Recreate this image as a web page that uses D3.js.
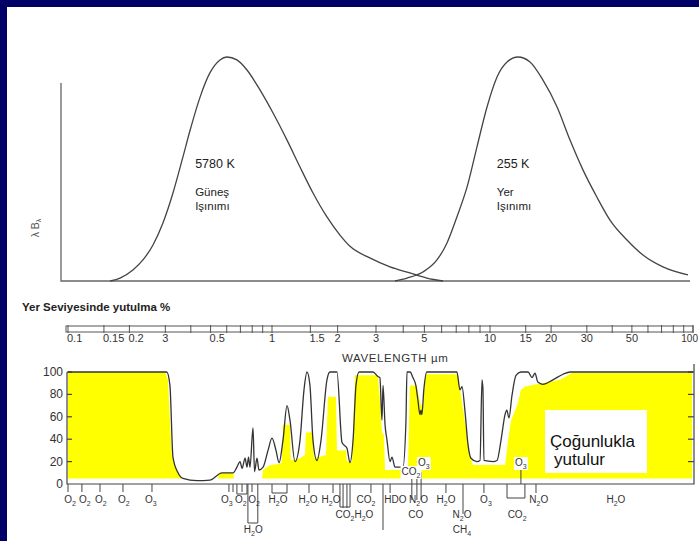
<!DOCTYPE html>
<html>
<head>
<meta charset="utf-8">
<script src="https://cdn.jsdelivr.net/npm/d3@7"></script>
<style>
  html, body { margin: 0; padding: 0; background: #000066; }
  svg { display: block; }
  text { font-family: "Liberation Sans", Arial, sans-serif; fill: #222; }
</style>
</head>
<body>
<svg id="chart" width="699" height="541"></svg>
<script>
// ---- Wavelength axis (µm) ----
const wlBreaks = [0.1, 1, 10, 100];
const barTicks = [0.1, 0.15, 0.2, 0.3, 0.4, 0.5, 0.6, 0.7, 0.8, 0.9, 1, 1.5, 2, 3, 4, 5, 6, 7, 8, 9,
                  10, 15, 20, 30, 40, 50, 60, 70, 80, 90, 100];
const barLabelWl   = [0.1, 0.15, 0.2, 0.3, 0.5, 1, 1.5, 2, 3, 5, 10, 15, 20, 30, 50, 100];
const barLabelText = ["0.1", "0.15", "0.2", "3", "0.5", "1", "1.5", "2", "3", "5", "10", "15", "20", "30", "50", "100"];

// ---- Upper panel: normalised λB_λ emission curves ----
const sunWl  = [0.161, 0.180, 0.208, 0.233, 0.261, 0.292, 0.327, 0.366, 0.397, 0.444, 0.496, 0.556, 0.601,
                0.673, 0.754, 0.873, 1.011, 1.172, 1.344, 1.542, 1.787, 2.05, 2.279, 2.81, 3.478, 4.29, 5.13, 6.09];
const sunVal = [0, 0.013, 0.049, 0.094, 0.161, 0.259, 0.393, 0.554, 0.674, 0.821, 0.929, 0.987, 1.0,
                0.987, 0.942, 0.853, 0.75, 0.629, 0.509, 0.393, 0.286, 0.205, 0.155, 0.103, 0.063, 0.036, 0.013, 0];
const earthWl  = [3.667, 4.16, 4.92, 5.71, 6.35, 7.05, 7.85, 8.71, 9.69, 10.83, 12.13, 13.74, 15.74, 18.24,
                  21.4, 24.79, 28.7, 33.6, 39.0, 47.3, 56.7, 71.1, 94.5];
const earthVal = [0, 0.013, 0.040, 0.094, 0.17, 0.286, 0.42, 0.598, 0.777, 0.911, 0.978, 1.0, 0.978, 0.897,
                  0.777, 0.629, 0.496, 0.375, 0.272, 0.183, 0.116, 0.063, 0.027];
const curveLabels = [
  ["5780 K", "Güneş", "Işınımı"],
  ["255 K", "Yer", "Işınımı"]
];
const curveLabelWl = [0.42, 10.8];

// ---- Lower panel: absorption at ground level (%) ----
const absWl  = [0.1, 0.305, 0.316, 0.327, 0.346, 0.366, 0.429, 0.496, 0.569, 0.644, 0.673, 0.697, 0.713, 0.738,
                0.754, 0.767, 0.780, 0.807, 0.821, 0.844, 0.863, 0.904, 0.956, 1.0, 1.043, 1.077, 1.123, 1.172,
                1.209, 1.275, 1.344, 1.402, 1.447, 1.493, 1.542, 1.608, 1.678, 1.787, 1.845, 1.986, 2.095, 2.16,
                2.207, 2.279, 2.354, 2.428, 2.507, 2.906, 3.06, 3.126, 3.195, 3.23, 3.30, 3.37, 3.478, 3.55,
                3.667, 3.987, 4.117, 4.16, 4.3, 4.43, 4.57, 4.67, 4.77, 4.82, 4.87, 4.97, 5.13, 7.05, 7.28,
                7.44, 7.67, 7.93, 8.18, 8.71, 9.0, 9.19, 9.28, 9.38, 10.34, 10.83, 11.33, 11.86, 12.1, 12.4,
                12.83, 13.43, 14.2, 15.4, 16.1, 16.66, 17.2, 18.2, 20.4, 22.9, 24.8, 100];
const absPct = [100, 100, 88, 24, 10, 5, 3, 3.5, 10, 10, 15, 20, 14, 23,
                15, 24, 15, 50, 11, 23, 12.5, 15, 30, 41, 30, 19, 39, 70,
                57, 20, 39, 84, 100, 88, 39, 21, 39, 93, 100, 100, 37, 34,
                32, 19, 39, 88, 100, 100, 96, 95, 57, 88, 53, 39, 20, 24,
                15, 15, 57, 100, 100, 95, 88, 75, 62, 66, 62, 84, 100, 100, 84,
                87, 66, 35, 23, 20, 21, 93, 85, 21, 20, 21, 39, 62, 66, 59,
                79, 97, 100, 100, 95, 99, 91, 89, 93, 98, 100, 100];

// Highlighted ("mostly absorbed") region
const shadeWl  = [0.1, 0.299, 0.309, 0.316, 0.323, 0.334, 0.354, 0.366, 0.543, 0.549, 0.644, 0.652, 0.894,
                  0.904, 0.978, 1.088, 1.11, 1.123, 1.209, 1.22, 1.344, 1.417, 1.43, 1.542, 1.557, 1.769,
                  1.806, 1.965, 1.986, 2.185, 2.207, 2.33, 2.403, 3.06, 3.126, 3.195, 3.26, 3.30, 4.2, 4.29,
                  4.62, 4.72, 4.92, 5.03, 5.08, 7.13, 7.36, 8.09, 8.35, 11.86, 12.27, 12.7, 13.6, 14.2, 14.86,
                  22.1, 25.3, 98.9, 99];
const shadePct = [100, 100, 93, 57, 26, 17, 8, 5, 5, 10, 10, 5, 5,
                  12.5, 17, 18, 20, 53, 53, 21, 23, 26, 46, 46, 23, 26,
                  78, 78, 30, 30, 20, 20, 97, 97, 75, 46, 44, 12.5, 12.5, 88,
                  88, 77, 66, 93, 98, 98, 79, 26, 17, 17, 39, 57, 70, 84, 87,
                  93, 99, 99, 5];
const shadeFloor = 5;

const pctTicks = [0, 20, 40, 60, 80, 100];

// Absorbing species marked under the axis
const gasText = ["O_2", "O_2", "O_2", "O_2", "O_3", "O_3", "O_2", "O_2", "H_2O", "H_2O", "H_2O", "CO_2", "HDO",
                 "N_2O", "H_2O", "O_3", "N_2O", "H_2O",
                 "CO_2", "H_2O", "CO", "N_2O", "CO_2",
                 "H_2O", "CH_4",
                 "CO_2", "O_3", "O_3"];
const gasWl   = [0.1023, 0.121, 0.145, 0.188, 0.255, 0.6, 0.704, 0.816, 1.065, 1.462, 1.865, 2.70, 3.68,
                 4.70, 6.28, 9.58, 17.4, 41.7,
                 2.16, 2.64, 4.57, 7.44, 13.6,
                 0.81, 7.44,
                 4.34, 4.97, 14.2];
const gasRow  = ["a", "a", "a", "a", "a", "a", "a", "a", "a", "a", "a", "a", "a",
                 "a", "a", "a", "a", "a",
                 "b", "b", "b", "b", "b",
                 "c", "c",
                 "u1", "u2", "u2"];
const markWl  = [0.1, 0.117, 0.1435, 0.186, 0.258, 0.615, 0.644, 0.713, 0.798, 1.478, 1.905, 2.118, 2.207,
                 2.844, 3.23, 3.48, 4.38, 4.62, 4.83, 6.28, 7.52, 9.38, 16.85, 4.38, 4.62, 4.83, 14.2];
const markLen = [8, 8, 8, 8, 8, 8, 8, 8, 8, 9, 9, 24, 24,
                 9, 46, 9, 16, 16, 16, 9, 30, 9, 9, -12, -15, -12, -15];
const bracketFrom  = [0.673, 1.0, 0.762, 2.05, 12.13];
const bracketTo    = [0.754, 1.172, 0.852, 2.28, 14.86];
const bracketDepth = [10, 9, 39, 23, 14];

// ---- Drawing ----
const svg = d3.select("#chart");
svg.append("rect").attr("x", 7).attr("y", 7).attr("width", 692).attr("height", 534).attr("fill", "#fff");

const x = d3.scaleLog().domain(wlBreaks).range([68, 272, 490, 693]);
const yTop = d3.scaleLinear().domain([0, 1]).range([281, 57]);
const yAbs = d3.scaleLinear().domain([0, 100]).range([484, 372]);

// Upper panel frame
svg.append("path").attr("d", `M61,83V${yTop(0)}H690`)
  .attr("fill", "none").attr("stroke", "#666").attr("stroke-width", 1.3);
svg.append("text").attr("transform", "translate(39,228) rotate(-90)")
  .attr("text-anchor", "middle").style("font-size", "10.5px").style("fill", "#555")
  .call(t => { t.append("tspan").text("λ B"); t.append("tspan").attr("dy", 2).style("font-size", "7px").text("λ"); });

const topLine = d3.line().x(d => x(d[0])).y(d => yTop(d[1])).curve(d3.curveMonotoneX);
[[sunWl, sunVal], [earthWl, earthVal]].forEach(([w, v]) => {
  svg.append("path").datum(w.map((d, i) => [d, v[i]])).attr("d", topLine)
    .attr("fill", "none").attr("stroke", "#444").attr("stroke-width", 1.3);
});
curveLabels.forEach((lines, i) => {
  const lx = x(curveLabelWl[i]);
  svg.append("text").attr("x", lx).attr("y", 168).style("font-size", "12.5px").text(lines[0]);
  svg.append("text").attr("x", lx).attr("y", 196).style("font-size", "11.5px").text(lines[1]);
  svg.append("text").attr("x", lx).attr("y", 210).style("font-size", "11.5px").text(lines[2]);
});

svg.append("text").attr("x", 22).attr("y", 311).style("font-size", "11.5px").style("font-weight", "bold")
  .text("Yer Seviyesinde yutulma %");

// Wavelength bar
const bar = svg.append("g").attr("stroke", "#555").attr("stroke-width", 1);
bar.append("rect").attr("x", x(0.1) - 2).attr("y", 326).attr("width", x(100) - x(0.1) + 2).attr("height", 6).attr("fill", "none");
bar.selectAll("line").data(barTicks).join("line")
  .attr("x1", d => x(d)).attr("x2", d => x(d)).attr("y1", 325).attr("y2", 333);
barLabelWl.forEach((w, i) => {
  const s = barLabelText[i];
  const last = i === barLabelWl.length - 1;
  svg.append("text")
    .attr("x", last ? 698 : (s.length >= 3 ? x(w) - 1 : x(w))).attr("y", 342)
    .attr("text-anchor", last ? "end" : (s.length >= 3 ? "start" : "middle"))
    .style("font-size", last ? "10px" : "11px").style("fill", "#333").text(s);
});
svg.append("text").attr("x", 342).attr("y", 362).style("font-size", "11.5px").style("letter-spacing", "0.6px")
  .style("fill", "#333").text("WAVELENGTH µm");

// Shaded absorption region
const shadeArea = d3.area().x(d => x(d[0])).y0(yAbs(shadeFloor)).y1(d => yAbs(Math.max(d[1], shadeFloor)));
svg.append("path").datum(shadeWl.map((d, i) => [d, shadePct[i]])).attr("d", shadeArea).attr("fill", "#ffff00");

// Lower panel axes
const axG = svg.append("g").attr("stroke", "#444").attr("stroke-width", 1.2).attr("fill", "none");
axG.append("path").attr("d", `M${x(0.1) - 1},${yAbs(100)}V${yAbs(0)}H${x(100) + 1}V${yAbs(100) - 8}`);
pctTicks.filter(d => d > 0).forEach(d => {
  axG.append("line").attr("x1", x(0.1) - 1).attr("x2", x(0.1) + 4).attr("y1", yAbs(d)).attr("y2", yAbs(d));
  axG.append("line").attr("x1", x(100) + 1).attr("x2", x(100) - 5).attr("y1", yAbs(d)).attr("y2", yAbs(d));
});
pctTicks.forEach(d => {
  svg.append("text").attr("x", 63).attr("y", yAbs(d) + 4).attr("text-anchor", "end")
    .style("font-size", "12px").style("fill", "#333").text(d);
});

// Absorption curve
const absLine = d3.line().x(d => x(d[0])).y(d => yAbs(d[1])).curve(d3.curveMonotoneX);
svg.append("path").datum(absWl.map((d, i) => [d, absPct[i]])).attr("d", absLine)
  .attr("fill", "none").attr("stroke", "#333").attr("stroke-width", 1.3);

// Species markers
const mk = svg.append("g").attr("stroke", "#444").attr("stroke-width", 1);
markWl.forEach((w, i) => {
  mk.append("line").attr("x1", x(w)).attr("x2", x(w)).attr("y1", yAbs(0)).attr("y2", yAbs(0) + markLen[i]);
});
bracketFrom.forEach((w, i) => {
  const yb = yAbs(0) + bracketDepth[i];
  mk.append("path").attr("fill", "none")
    .attr("d", `M${x(w)},${yAbs(0)}V${yb}H${x(bracketTo[i])}V${yAbs(0)}`);
});

const rowY = { a: 503, b: 518, c: 533, u1: 475, u2: 466 };
function chem(g, str, cx, cy, size) {
  const t = g.append("text").attr("x", cx).attr("y", cy).attr("text-anchor", "middle")
    .style("font-size", size + "px").style("fill", "#333");
  let low = false;
  str.split(/(_\d)/).filter(p => p).forEach(p => {
    if (p[0] === "_") {
      t.append("tspan").attr("dy", low ? 0 : 3).style("font-size", (size * 0.7) + "px").text(p.slice(1));
      low = true;
    } else {
      t.append("tspan").attr("dy", low ? -3 : 0).text(p);
      low = false;
    }
  });
  return t;
}
const gasG = svg.append("g");
gasText.forEach((s, i) => {
  const up = gasRow[i][0] === "u";
  const t = chem(gasG, s, x(gasWl[i]), rowY[gasRow[i]], 10);
  if (up) {
    const b = t.node().getBBox();
    gasG.insert("rect", () => t.node()).attr("x", b.x - 1).attr("y", b.y).attr("width", b.width + 2)
      .attr("height", b.height).attr("fill", "#fff");
  }
});

// Annotation box
svg.append("rect").attr("x", 545).attr("y", 410).attr("width", 102).attr("height", 63).attr("fill", "#fff");
svg.append("text").attr("x", 550).attr("y", 447).style("font-size", "17px").style("fill", "#111").text("Çoğunlukla");
svg.append("text").attr("x", 554).attr("y", 465).style("font-size", "17px").style("fill", "#111").text("yutulur");
</script>
</body>
</html>
